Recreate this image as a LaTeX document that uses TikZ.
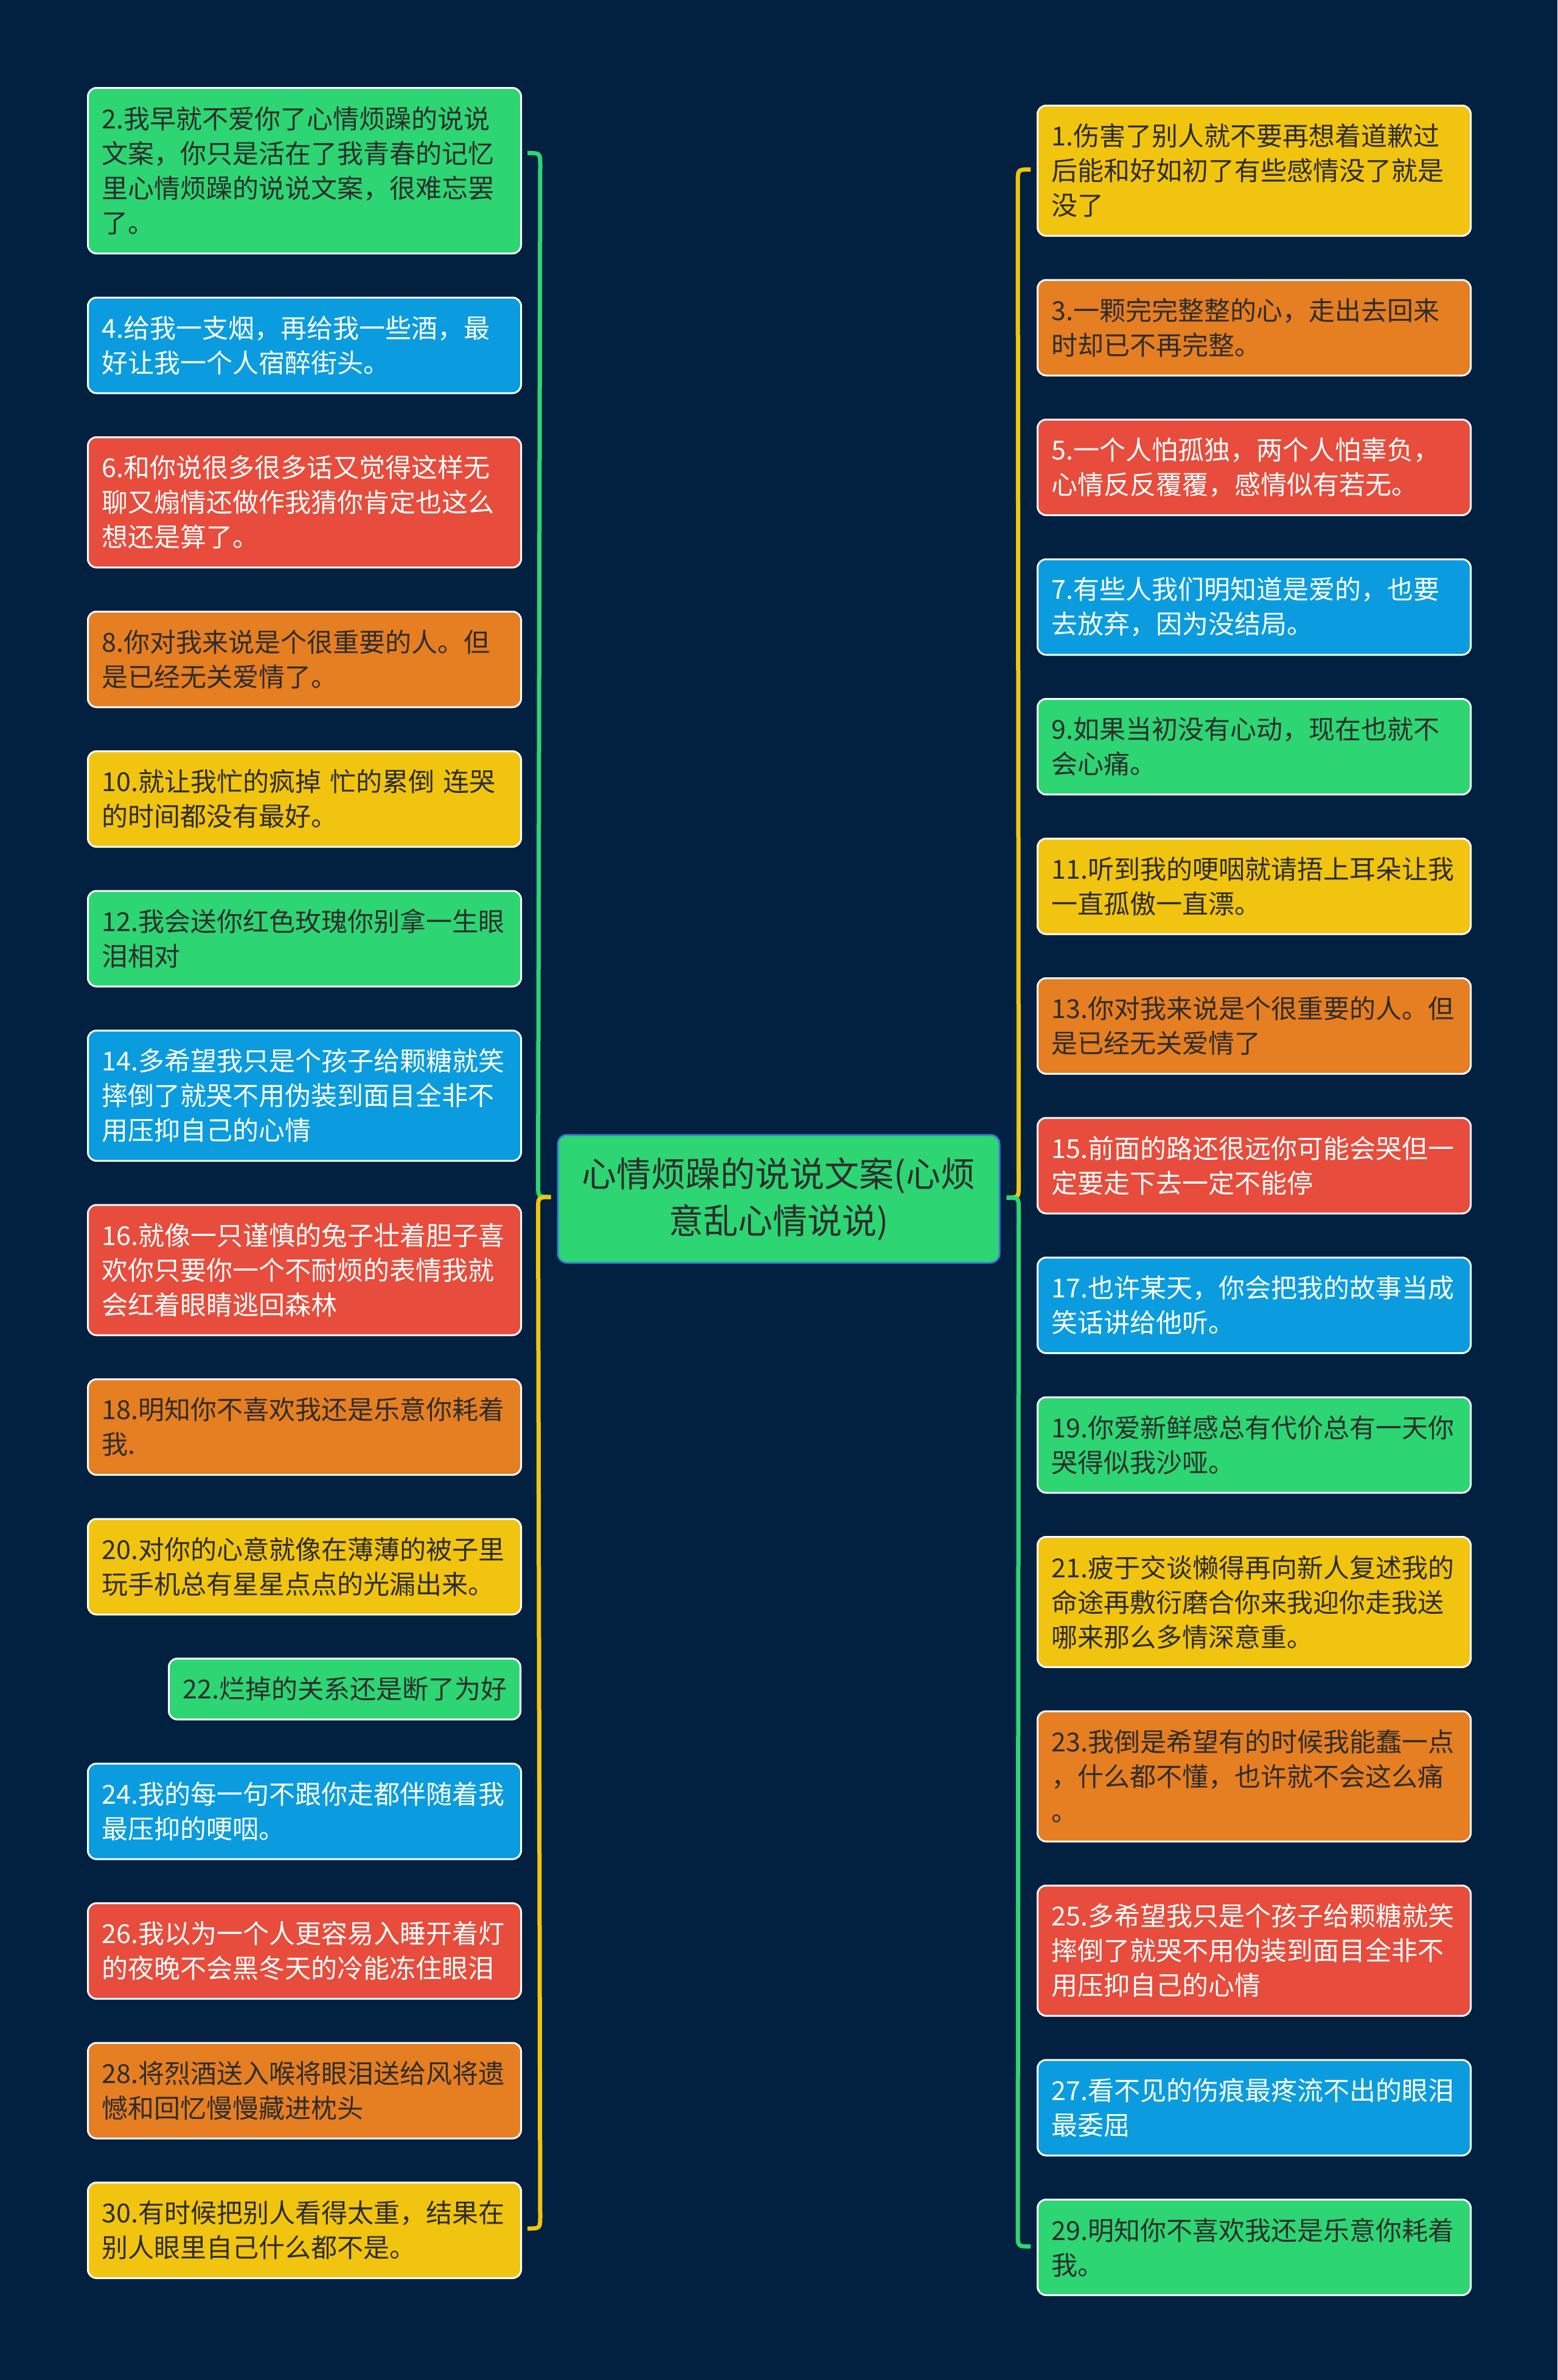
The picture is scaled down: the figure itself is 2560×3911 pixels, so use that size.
\documentclass[tikz,border=0pt]{standalone}
\usepackage{fontspec}
\setmainfont{Noto Sans CJK SC}
\usetikzlibrary{calc}
\definecolor{bgc}{RGB}{2,33,64}
\definecolor{cgreen}{RGB}{46,213,115}
\definecolor{cblue}{RGB}{10,156,222}
\definecolor{cred}{RGB}{231,76,60}
\definecolor{corange}{RGB}{230,126,34}
\definecolor{cyellow}{RGB}{241,196,15}
\definecolor{ctext}{RGB}{45,45,45}
\definecolor{cborder}{RGB}{58,123,213}
\begin{document}
\begin{tikzpicture}[x=1pt,y=-1pt,
  leaf/.style={draw=white, line width=3pt, rounded corners=14pt, anchor=north west,
    inner xsep=23pt, inner ysep=0pt, text width=666pt, align=left,
    font=\fontsize{43}{57}\selectfont, text=ctext},
  l1/.style={minimum height=100pt},
  l2/.style={minimum height=157pt},
  l3/.style={minimum height=214pt},
  l4/.style={minimum height=272pt},
  gleaf/.style={leaf, fill=cgreen},
  yleaf/.style={leaf, fill=cyellow},
  oleaf/.style={leaf, fill=corange},
  rleaf/.style={leaf, fill=cred, text=white},
  bleaf/.style={leaf, fill=cblue, text=white},
  bline/.style={line width=7pt}
]
\useasboundingbox (0,0) rectangle (2560,3911);
\fill[bgc] (0,0) rectangle (2560,3911);

% center
\node[draw=cborder, line width=3pt, fill=cgreen, rounded corners=15pt,
  minimum width=726pt, minimum height=210pt, align=center,
  font=\fontsize{57}{77}\selectfont, text=ctext] (c) at (1280,1970)
  {心情烦躁的说说文案(心烦\\意乱心情说说)};

% left column
\node[gleaf,l4] (n2) at (143,143) {2.我早就不爱你了心情烦躁的说说\\文案，你只是活在了我青春的记忆\\里心情烦躁的说说文案，很难忘罢\\了。};
\node[bleaf,l2] (n4) at (143,487.5) {4.给我一支烟，再给我一些酒，最\\好让我一个人宿醉街头。};
\node[rleaf,l3] (n6) at (143,717) {6.和你说很多很多话又觉得这样无\\聊又煽情还做作我猜你肯定也这么\\想还是算了。};
\node[oleaf,l2] (n8) at (143,1003.5) {8.你对我来说是个很重要的人。但\\是已经无关爱情了。};
\node[yleaf,l2] (n10) at (143,1233) {10.就让我忙的疯掉 忙的累倒 连哭\\的时间都没有最好。};
\node[gleaf,l2] (n12) at (143,1462.5) {12.我会送你红色玫瑰你别拿一生眼\\泪相对};
\node[bleaf,l3] (n14) at (143,1692) {14.多希望我只是个孩子给颗糖就笑\\摔倒了就哭不用伪装到面目全非不\\用压抑自己的心情};
\node[rleaf,l3] (n16) at (143,1978.5) {16.就像一只谨慎的兔子壮着胆子喜\\欢你只要你一个不耐烦的表情我就\\会红着眼睛逃回森林};
\node[oleaf,l2] (n18) at (143,2265) {18.明知你不喜欢我还是乐意你耗着\\我.};
\node[yleaf,l2] (n20) at (143,2494.5) {20.对你的心意就像在薄薄的被子里\\玩手机总有星星点点的光漏出来。};
\node[gleaf,l1,text width=532pt] (n22) at (276,2724) {22.烂掉的关系还是断了为好};
\node[bleaf,l2] (n24) at (143,2896.5) {24.我的每一句不跟你走都伴随着我\\最压抑的哽咽。};
\node[rleaf,l2] (n26) at (143,3126) {26.我以为一个人更容易入睡开着灯\\的夜晚不会黑冬天的冷能冻住眼泪};
\node[oleaf,l2] (n28) at (143,3355.5) {28.将烈酒送入喉将眼泪送给风将遗\\憾和回忆慢慢藏进枕头};
\node[yleaf,l2] (n30) at (143,3585) {30.有时候把别人看得太重，结果在\\别人眼里自己什么都不是。};

% right column
\node[yleaf,l3] (n1) at (1704,172) {1.伤害了别人就不要再想着道歉过\\后能和好如初了有些感情没了就是\\没了};
\node[oleaf,l2] (n3) at (1704,458.5) {3.一颗完完整整的心，走出去回来\\时却已不再完整。};
\node[rleaf,l2] (n5) at (1704,688) {5.一个人怕孤独，两个人怕辜负，\\心情反反覆覆，感情似有若无。};
\node[bleaf,l2] (n7) at (1704,917.5) {7.有些人我们明知道是爱的，也要\\去放弃，因为没结局。};
\node[gleaf,l2] (n9) at (1704,1147) {9.如果当初没有心动，现在也就不\\会心痛。};
\node[yleaf,l2] (n11) at (1704,1376.5) {11.听到我的哽咽就请捂上耳朵让我\\一直孤傲一直漂。};
\node[oleaf,l2] (n13) at (1704,1606) {13.你对我来说是个很重要的人。但\\是已经无关爱情了};
\node[rleaf,l2] (n15) at (1704,1835.5) {15.前面的路还很远你可能会哭但一\\定要走下去一定不能停};
\node[bleaf,l2] (n17) at (1704,2065) {17.也许某天，你会把我的故事当成\\笑话讲给他听。};
\node[gleaf,l2] (n19) at (1704,2294.5) {19.你爱新鲜感总有代价总有一天你\\哭得似我沙哑。};
\node[yleaf,l3] (n21) at (1704,2524) {21.疲于交谈懒得再向新人复述我的\\命途再敷衍磨合你来我迎你走我送\\哪来那么多情深意重。};
\node[oleaf,l3] (n23) at (1704,2810.5) {23.我倒是希望有的时候我能蠢一点\\，什么都不懂，也许就不会这么痛\\。};
\node[rleaf,l3] (n25) at (1704,3097) {25.多希望我只是个孩子给颗糖就笑\\摔倒了就哭不用伪装到面目全非不\\用压抑自己的心情};
\node[bleaf,l2] (n27) at (1704,3383.5) {27.看不见的伤痕最疼流不出的眼泪\\最委屈};
\node[gleaf,l2] (n29) at (1704,3613) {29.明知你不喜欢我还是乐意你耗着\\我。};

% left brace
\coordinate (LT) at ($(n2.east)+(9,-29)$);
\coordinate (LB) at ($(n30.east)+(9,-3)$);
\coordinate (LM) at ($(c.west)+(-10,-3)$);
\draw[bline, cgreen] (LT) .. controls ($(LT)+(21,0)$) .. ($(LT)+(21,21)$)
  -- ($(LM)+(-21,-21)$) .. controls ($(LM)+(-21,0)$) .. (LM);
\draw[bline, cyellow] (LM) .. controls ($(LM)+(-21,0)$) .. ($(LM)+(-21,21)$)
  -- ($(LB)+(21,-21)$) .. controls ($(LB)+(21,0)$) .. (LB);

% right brace
\coordinate (RT) at ($(n1.west)+(-10,-2)$);
\coordinate (RB) at ($(n29.west)+(-10,-1.5)$);
\coordinate (RM) at ($(c.east)+(10,-2)$);
\draw[bline, cyellow] (RT) .. controls ($(RT)+(-21,0)$) .. ($(RT)+(-21,21)$)
  -- ($(RM)+(20,-20)$) .. controls ($(RM)+(20,0)$) .. (RM);
\draw[bline, cgreen] (RM) .. controls ($(RM)+(20,0)$) .. ($(RM)+(20,20)$)
  -- ($(RB)+(-21,-21)$) .. controls ($(RB)+(-21,0)$) .. (RB);
\end{tikzpicture}
\end{document}
